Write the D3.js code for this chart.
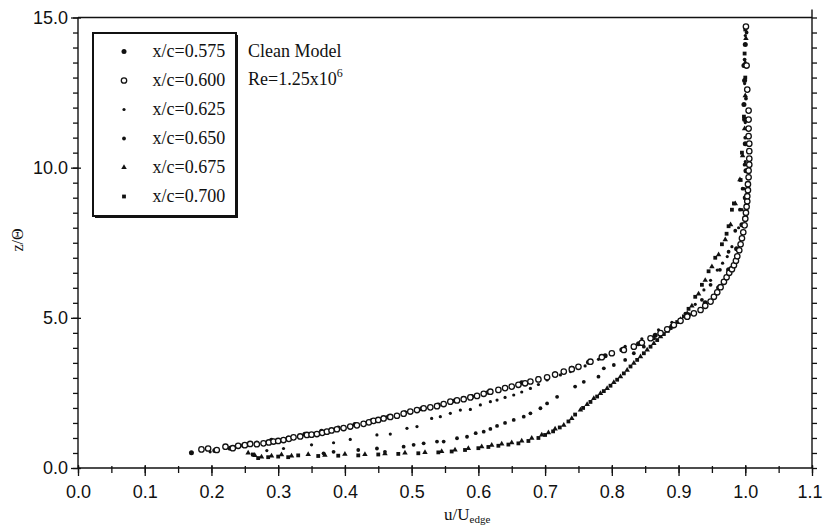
<!DOCTYPE html>
<html>
<head>
<meta charset="utf-8">
<script src="https://cdn.jsdelivr.net/npm/d3@7/dist/d3.min.js"></script>
<style>
    html, body { margin: 0; padding: 0; background: #fff; }
    svg { display: block; font-family: "Liberation Serif", "DejaVu Serif", serif; }
    .axis text { font-size: 18px; fill: #111; }
    .axis line { stroke: #111; stroke-width: 1.3; }
    .axis path { display: none; }
</style>
</head>
<body>
<div id="chart"></div>
<script>

// boundary layer profiles, [u/U, z/Theta]
var s575 = [[0.170,0.51],[0.205,0.58],[0.228,0.66],[0.248,0.76],[0.268,0.83],[0.290,0.92],[0.315,1.00],[0.340,1.12],[0.365,1.22],[0.390,1.33],[0.415,1.45],[0.440,1.57],[0.465,1.70],[0.490,1.84],[0.515,1.97],[0.540,2.10],[0.565,2.24],[0.590,2.38],[0.615,2.52],[0.640,2.68],[0.665,2.84],[0.690,2.98],[0.715,3.14],[0.740,3.32],[0.765,3.52],[0.790,3.74],[0.815,3.94],[0.840,4.14],[0.865,4.42],[0.890,4.72],[0.915,5.10],[0.940,5.50],[0.960,6.00],[0.975,6.60],[0.987,7.30],[0.995,8.10],[1.000,9.00],[1.001,9.90],[1.000,10.8],[0.999,11.6],[0.998,12.1],[0.999,12.9],[0.998,13.4],[1.000,14.1]];

var s600 = [[0.185,0.62],[0.195,0.65],[0.208,0.60],[0.221,0.71],[0.232,0.66],[0.240,0.74],[0.250,0.76],[0.258,0.80],[0.268,0.79],[0.278,0.82],[0.286,0.85],[0.293,0.88],[0.300,0.90],[0.308,0.93],[0.316,0.97],[0.323,1.02],[0.333,1.05],[0.343,1.10],[0.350,1.11],[0.358,1.13],[0.366,1.17],[0.373,1.21],[0.380,1.25],[0.388,1.29],[0.398,1.33],[0.408,1.38],[0.418,1.42],[0.428,1.47],[0.436,1.52],[0.443,1.57],[0.450,1.60],[0.458,1.65],[0.468,1.70],[0.478,1.74],[0.488,1.81],[0.498,1.88],[0.508,1.93],[0.518,1.99],[0.528,2.02],[0.538,2.06],[0.548,2.13],[0.558,2.21],[0.568,2.25],[0.578,2.29],[0.588,2.35],[0.598,2.40],[0.608,2.47],[0.618,2.54],[0.630,2.60],[0.640,2.66],[0.650,2.71],[0.660,2.77],[0.670,2.82],[0.678,2.88],[0.690,2.95],[0.703,3.02],[0.715,3.11],[0.728,3.21],[0.740,3.29],[0.750,3.37],[0.768,3.54],[0.785,3.69],[0.800,3.82],[0.818,3.93],[0.833,4.04],[0.845,4.17],[0.858,4.32],[0.873,4.49],[0.883,4.62],[0.893,4.76],[0.903,4.90],[0.913,5.04],[0.923,5.15],[0.933,5.26],[0.940,5.40],[0.948,5.54],[0.953,5.70],[0.958,5.85],[0.963,6.02],[0.968,6.20],[0.972,6.35],[0.976,6.50],[0.980,6.62],[0.983,6.75],[0.986,6.90],[0.988,7.05],[0.991,7.25],[0.993,7.45],[0.995,7.65],[0.997,7.85],[0.999,8.08],[1.000,8.30],[1.001,8.50],[1.002,8.70],[1.003,8.88],[1.003,9.05],[1.004,9.25],[1.004,9.45],[1.005,9.68],[1.005,9.90],[1.006,10.10],[1.006,10.30],[1.006,10.55],[1.006,10.80],[1.005,11.05],[1.005,11.30],[1.005,11.60],[1.005,11.90],[1.003,12.60],[1.002,13.40],[1.001,14.70]];

var s625 = [[0.198,0.54],[0.283,0.58],[0.308,0.65],[0.350,0.77],[0.383,0.84],[0.408,0.95],[0.448,1.10],[0.468,1.13],[0.493,1.32],[0.508,1.38],[0.530,1.65],[0.543,1.71],[0.558,1.82],[0.573,1.93],[0.588,1.95],[0.603,2.10],[0.618,2.21],[0.628,2.26],[0.640,2.35],[0.653,2.43],[0.665,2.53],[0.678,2.65],[0.690,2.78],[0.703,2.93],[0.723,3.10],[0.738,3.21],[0.760,3.40],[0.780,3.62],[0.800,3.85],[0.820,4.05],[0.845,4.30],[0.870,4.60],[0.890,4.85],[0.910,5.15],[0.925,5.45],[0.938,5.93],[0.948,6.25],[0.958,6.59],[0.966,6.82],[0.973,7.04],[0.980,7.37],[0.990,8.00],[0.995,8.60],[0.998,9.30],[1.000,10.2],[1.000,11.5],[0.999,12.8],[1.000,14.4]];

var s650 = [[0.368,0.49],[0.383,0.54],[0.420,0.60],[0.448,0.65],[0.460,0.54],[0.488,0.71],[0.503,0.77],[0.518,0.82],[0.538,0.88],[0.548,0.88],[0.568,0.99],[0.583,1.04],[0.596,1.16],[0.608,1.21],[0.618,1.30],[0.628,1.40],[0.640,1.50],[0.653,1.60],[0.668,1.71],[0.678,1.82],[0.693,1.99],[0.703,2.15],[0.718,2.37],[0.745,2.71],[0.758,2.87],[0.780,3.04],[0.788,3.32],[0.803,3.43],[0.820,3.60],[0.833,3.82],[0.848,4.04],[0.863,4.32],[0.883,4.65],[0.903,4.93],[0.923,5.15],[0.935,5.60],[0.948,6.10],[0.962,6.60],[0.975,7.20],[0.985,7.90],[0.992,8.60],[0.996,9.30],[0.999,10.1],[1.000,11.0],[1.001,12.3],[0.999,13.6],[1.002,14.5]];

var s675 = [[0.255,0.50],[0.265,0.42],[0.275,0.37],[0.290,0.40],[0.305,0.44],[0.320,0.40],[0.345,0.45],[0.370,0.43],[0.400,0.46],[0.430,0.45],[0.460,0.48],[0.490,0.50],[0.520,0.52],[0.545,0.55],[0.565,0.60],[0.585,0.65],[0.605,0.71],[0.620,0.76],[0.635,0.80],[0.650,0.84],[0.665,0.90],[0.680,0.99],[0.695,1.10],[0.705,1.18],[0.715,1.30],[0.728,1.43],[0.740,1.65],[0.753,1.93],[0.763,2.12],[0.773,2.32],[0.783,2.48],[0.793,2.65],[0.803,2.85],[0.813,3.04],[0.823,3.26],[0.833,3.49],[0.843,3.71],[0.853,3.93],[0.863,4.15],[0.873,4.37],[0.883,4.56],[0.893,4.76],[0.903,4.95],[0.913,5.15],[0.920,5.40],[0.930,5.80],[0.940,6.25],[0.950,6.70],[0.960,7.10],[0.970,7.60],[0.978,8.10],[0.985,8.80],[0.992,9.60],[0.996,10.4],[0.999,11.3],[1.000,12.4],[1.000,13.5],[1.001,14.3]];

var s700 = [[0.262,0.45],[0.270,0.33],[0.285,0.36],[0.300,0.38],[0.315,0.36],[0.330,0.42],[0.360,0.40],[0.390,0.41],[0.420,0.42],[0.450,0.45],[0.480,0.47],[0.510,0.49],[0.540,0.52],[0.560,0.55],[0.580,0.60],[0.600,0.66],[0.615,0.70],[0.630,0.74],[0.645,0.78],[0.660,0.82],[0.675,0.90],[0.690,1.00],[0.700,1.10],[0.712,1.22],[0.722,1.35],[0.735,1.55],[0.745,1.78],[0.757,2.00],[0.768,2.20],[0.778,2.38],[0.788,2.56],[0.798,2.74],[0.808,2.94],[0.818,3.15],[0.828,3.38],[0.838,3.60],[0.848,3.82],[0.858,4.04],[0.868,4.26],[0.878,4.46],[0.888,4.66],[0.898,4.86],[0.908,5.05],[0.915,5.30],[0.925,5.70],[0.935,6.10],[0.945,6.55],[0.955,7.00],[0.965,7.45],[0.972,7.80],[0.975,8.05],[0.980,8.60],[0.983,8.81],[0.993,9.59],[0.995,10.5],[0.998,11.7],[1.000,13.0],[0.999,13.8],[1.000,14.6]];

var seriesNames = ['x/c=0.575', 'x/c=0.600', 'x/c=0.625', 'x/c=0.650', 'x/c=0.675', 'x/c=0.700'];
var seriesData = [s575, s600, s625, s650, s675, s700];
var xTicks = [0.0, 0.1, 0.2, 0.3, 0.4, 0.5, 0.6, 0.7, 0.8, 0.9, 1.0, 1.1];
var yTicks = [0, 5, 10, 15];


var width = 823, height = 526;
var margin = { left: 78, top: 17.5, right: 11, bottom: 58 };
var innerW = width - margin.left - margin.right;
var innerH = height - margin.top - margin.bottom;

var x = d3.scaleLinear().domain([0, 1.1]).range([0, innerW]);
var y = d3.scaleLinear().domain([0, 15]).range([innerH, 0]);

var svg = d3.select('#chart').append('svg')
    .attr('width', width)
    .attr('height', height);

var g = svg.append('g')
    .attr('transform', 'translate(' + [margin.left, margin.top] + ')');

var xMinor = d3.range(0, 23).map(d => d * 0.05);
var yMinor = d3.range(0, 31).map(d => d * 0.5);

// minor ticks
g.append('g').attr('class', 'axis')
    .attr('transform', 'translate(0,' + innerH + ')')
    .call(d3.axisBottom(x).tickValues(xMinor).tickSize(5).tickSizeOuter(0).tickFormat(''))
    .selectAll('line').attr('y1', -2);

g.append('g').attr('class', 'axis')
    .call(d3.axisLeft(y).tickValues(yMinor).tickSize(5).tickSizeOuter(0).tickFormat(''));

g.append('g').attr('class', 'axis')
    .attr('transform', 'translate(' + innerW + ',0)')
    .call(d3.axisRight(y).tickValues(yMinor).tickSize(5).tickSizeOuter(0).tickFormat(''));

// major ticks
g.append('g').attr('class', 'axis')
    .attr('transform', 'translate(0,' + innerH + ')')
    .call(d3.axisBottom(x).tickValues(xTicks).tickSize(8).tickPadding(9).tickSizeOuter(0).tickFormat(d3.format('.1f')))
    .selectAll('line').attr('y1', -3);

// keep the last label inside the window
g.selectAll('.axis text')
    .filter(d => d === 1.1)
    .attr('text-anchor', 'end')
    .attr('dx', 10);

g.append('g').attr('class', 'axis')
    .call(d3.axisLeft(y).tickValues(yTicks).tickSize(7).tickPadding(3).tickSizeOuter(0).tickFormat(d3.format('.1f')))
    .selectAll('line').attr('x1', 3);

// frame
var frame = [
    [0, 0, innerW, 0],
    [0, 0, 0, innerH],
    [0, innerH, innerW, innerH],
    [innerW, -8, innerW, innerH]
];
g.selectAll('line.frame')
    .data(frame)
    .enter()
    .append('line')
    .attr('class', 'frame')
    .attr('x1', d => d[0]).attr('y1', d => d[1])
    .attr('x2', d => d[2]).attr('y2', d => d[3])
    .style('stroke', '#111')
    .style('stroke-width', 1.4);

// marker drawers
function drawMarker(sel, i) {
    var ink = '#111';
    if (i === 0) {
        sel.append('circle').attr('r', 2.5).style('fill', ink);
    } else if (i === 1) {
        sel.append('circle').attr('r', 2.7).style('fill', '#fff').style('stroke', ink).style('stroke-width', 1.3);
    } else if (i === 2) {
        sel.append('circle').attr('r', 1.6).style('fill', ink);
    } else if (i === 3) {
        sel.append('circle').attr('r', 1.9).style('fill', ink);
    } else if (i === 4) {
        sel.append('path').attr('d', d3.symbol(d3.symbolTriangle, 13)).style('fill', ink);
    } else {
        sel.append('rect').attr('x', -1.9).attr('y', -1.9).attr('width', 3.8).attr('height', 3.8).style('fill', ink);
    }
}

var drawOrder = [4, 5, 3, 2, 0, 1];
drawOrder.forEach(function(i) {
    g.append('g')
        .selectAll('g')
        .data(seriesData[i])
        .enter()
        .append('g')
        .attr('transform', d => 'translate(' + [x(d[0]), y(d[1])] + ')')
        .each(function() { drawMarker(d3.select(this), i); });
});

// legend
var legend = svg.append('g');
legend.append('rect')
    .attr('x', 95).attr('y', 35).attr('width', 143).attr('height', 183)
    .style('fill', '#111');
legend.append('rect')
    .attr('x', 93).attr('y', 33).attr('width', 143).attr('height', 183)
    .style('fill', '#fff').style('stroke', '#111').style('stroke-width', 2);

var rows = legend.selectAll('g.row')
    .data(seriesNames)
    .enter()
    .append('g')
    .attr('class', 'row')
    .attr('transform', (d, i) => 'translate(0,' + (51.5 + i * 29) + ')');

rows.each(function(d, i) {
    var row = d3.select(this);
    drawMarker(row.append('g').attr('transform', 'translate(124,0)'), i);
    row.append('text')
        .attr('x', 152.5)
        .attr('y', 5)
        .style('font-size', '18px')
        .style('fill', '#111')
        .text(d);
});

svg.append('text')
    .attr('x', 248).attr('y', 56.5)
    .style('font-size', '18px').style('fill', '#111')
    .text('Clean Model');

var re = svg.append('text')
    .attr('x', 248).attr('y', 85)
    .style('font-size', '18px').style('fill', '#111');
re.append('tspan').text('Re=1.25x10');
re.append('tspan').attr('dy', -8).style('font-size', '12px').text('6');

// axis titles
var xt = svg.append('text')
    .attr('x', 444).attr('y', 520)
    .style('font-size', '17px').style('fill', '#111');
xt.append('tspan').text('u/U');
xt.append('tspan').attr('dy', 3).style('font-size', '11px').text('edge');

svg.append('text')
    .attr('transform', 'translate(23,240) rotate(-90)')
    .attr('text-anchor', 'middle')
    .style('font-size', '16px').style('fill', '#111')
    .text('z/Θ');

</script>
</body>
</html>
